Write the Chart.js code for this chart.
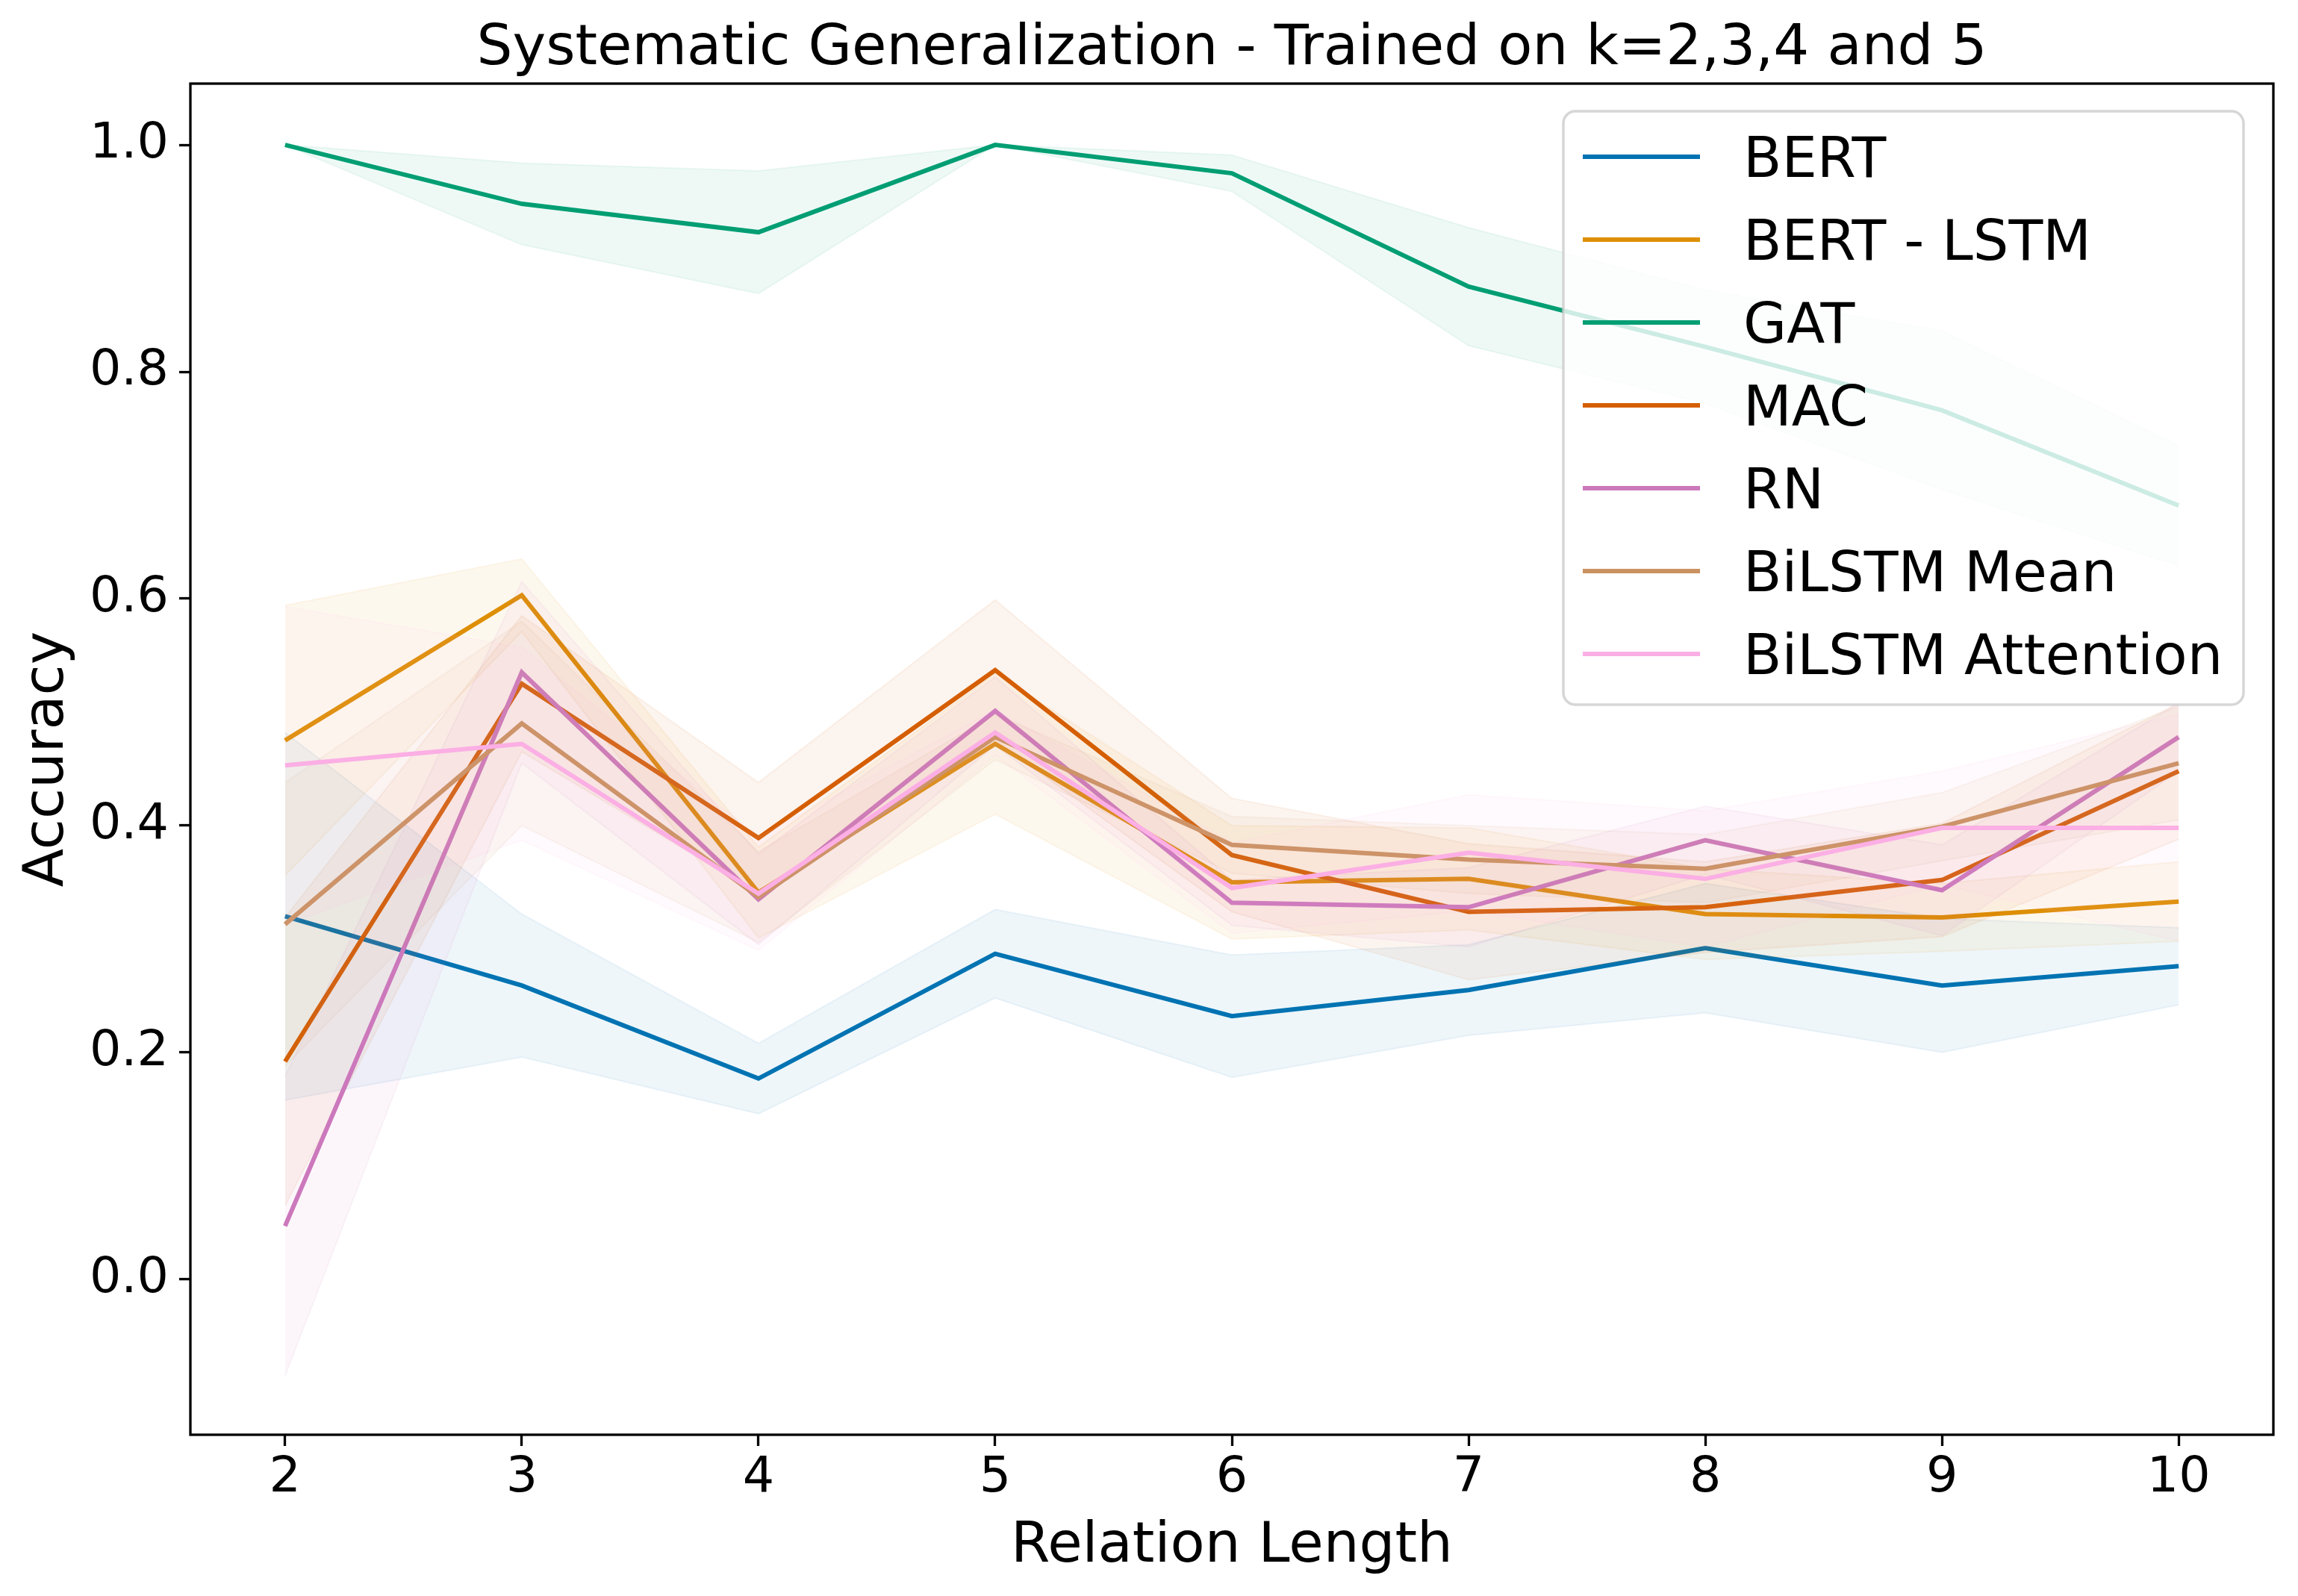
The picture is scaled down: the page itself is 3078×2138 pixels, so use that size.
<!DOCTYPE html>
<html lang="en">
<head>
<meta charset="UTF-8">
<title>Systematic Generalization</title>
<script src="https://cdn.jsdelivr.net/npm/chart.js"></script>
<style>
  body { margin: 0; background: #fff; }
  canvas { display: block; }
</style>
</head>
<body>
<canvas id="chart" width="3078" height="2138"></canvas>
<script>
// relation lengths (x) and y tick values
const relationLength = [2, 3, 4, 5, 6, 7, 8, 9, 10];
const yTicks = [0.0, 0.2, 0.4, 0.6, 0.8, 1.0];

// mean accuracy per model
const bert       = [0.320, 0.259, 0.177, 0.287, 0.232, 0.255, 0.292, 0.259, 0.276];
const bertLstm   = [0.475, 0.603, 0.341, 0.472, 0.350, 0.353, 0.322, 0.319, 0.333];
const gat        = [1.000, 0.948, 0.923, 1.000, 0.975, 0.875, 0.822, 0.766, 0.682];
const mac        = [0.192, 0.525, 0.389, 0.537, 0.374, 0.324, 0.328, 0.352, 0.448];
const rn         = [0.047, 0.535, 0.335, 0.501, 0.332, 0.328, 0.387, 0.343, 0.478];
const bilstmMean = [0.313, 0.490, 0.337, 0.478, 0.383, 0.370, 0.362, 0.399, 0.455];
const bilstmAttn = [0.453, 0.472, 0.340, 0.482, 0.345, 0.376, 0.353, 0.398, 0.398];

// half width of the shaded band (std dev) per model
const bertSd       = [0.162, 0.063, 0.031, 0.039, 0.054, 0.040, 0.057, 0.059, 0.034];
const bertLstmSd   = [0.119, 0.032, 0.040, 0.062, 0.050, 0.045, 0.040, 0.030, 0.035];
const gatSd        = [0.000, 0.036, 0.054, 0.000, 0.016, 0.052, 0.050, 0.070, 0.053];
const macSd        = [0.127, 0.060, 0.049, 0.062, 0.050, 0.060, 0.040, 0.050, 0.060];
const rnSd         = [0.132, 0.080, 0.040, 0.030, 0.020, 0.035, 0.030, 0.040, 0.030];
const bilstmMeanSd = [0.125, 0.090, 0.040, 0.020, 0.025, 0.030, 0.030, 0.030, 0.050];
const bilstmAttnSd = [0.140, 0.085, 0.050, 0.020, 0.040, 0.051, 0.060, 0.050, 0.100];

const series = [
    { name: 'BERT',              color: [1, 115, 178],   mean: bert,       sd: bertSd },
    { name: 'BERT - LSTM',       color: [222, 143, 5],   mean: bertLstm,   sd: bertLstmSd },
    { name: 'GAT',               color: [2, 158, 115],   mean: gat,        sd: gatSd },
    { name: 'MAC',               color: [213, 94, 0],    mean: mac,        sd: macSd },
    { name: 'RN',                color: [204, 120, 188], mean: rn,         sd: rnSd },
    { name: 'BiLSTM Mean',       color: [202, 145, 97],  mean: bilstmMean, sd: bilstmMeanSd },
    { name: 'BiLSTM Attention',  color: [251, 175, 228], mean: bilstmAttn, sd: bilstmAttnSd }
];

const FONT = "'DejaVu Sans', sans-serif";
const rgba = (c, a) => `rgba(${c[0]}, ${c[1]}, ${c[2]}, ${a})`;

// each model: upper bound, lower bound (filled to upper), then the mean line
const datasets = [];
series.forEach((s, i) => {
    const upperIdx = datasets.length;
    const order = 100 - i * 3;
    datasets.push({
        label: s.name + ' upper',
        data: relationLength.map((x, j) => ({ x: x, y: s.mean[j] + s.sd[j] })),
        borderColor: rgba(s.color, 0.07),
        borderWidth: 2,
        pointRadius: 0,
        fill: false,
        order: order
    });
    datasets.push({
        label: s.name + ' lower',
        data: relationLength.map((x, j) => ({ x: x, y: s.mean[j] - s.sd[j] })),
        borderColor: rgba(s.color, 0.07),
        borderWidth: 2,
        pointRadius: 0,
        fill: upperIdx,
        backgroundColor: rgba(s.color, 0.065),
        order: order - 1
    });
    datasets.push({
        label: s.name,
        data: relationLength.map((x, j) => ({ x: x, y: s.mean[j] })),
        borderColor: rgba(s.color, 1),
        borderWidth: 6,
        pointRadius: 0,
        fill: false,
        order: order - 2
    });
});

// title, frame and an in-axes legend like matplotlib's
const overlay = {
    id: 'overlay',
    afterDatasetsDraw(chart) {
        const ctx = chart.ctx;
        const a = chart.chartArea;
        ctx.save();

        // legend box
        const bx = a.right - 951, by = a.top + 37, bw = 911, bh = 795;
        ctx.beginPath();
        ctx.roundRect(bx, by, bw, bh, 16);
        ctx.fillStyle = 'rgba(255, 255, 255, 0.8)';
        ctx.fill();
        ctx.lineWidth = 3.5;
        ctx.strokeStyle = 'rgba(204, 204, 204, 0.8)';
        ctx.stroke();

        ctx.font = '75px ' + FONT;
        ctx.textAlign = 'left';
        ctx.textBaseline = 'middle';
        series.forEach((s, i) => {
            const y = by + 61 + i * 111;
            ctx.beginPath();
            ctx.moveTo(bx + 26, y);
            ctx.lineTo(bx + 183, y);
            ctx.lineWidth = 6;
            ctx.strokeStyle = rgba(s.color, 1);
            ctx.stroke();
            ctx.fillStyle = '#000';
            ctx.fillText(s.name, bx + 241, y + 8);
        });

        // axes frame
        ctx.lineWidth = 3.3;
        ctx.strokeStyle = '#000';
        ctx.strokeRect(a.left, a.top, a.right - a.left, a.bottom - a.top);

        // title centred over the axes
        ctx.font = '75.5px ' + FONT;
        ctx.textAlign = 'center';
        ctx.textBaseline = 'middle';
        ctx.fillStyle = '#000';
        ctx.fillText('Systematic Generalization - Trained on k=2,3,4 and 5', (a.left + a.right) / 2, 66);
        ctx.restore();
    }
};

new Chart(document.getElementById('chart'), {
    type: 'line',
    data: { datasets: datasets },
    options: {
        responsive: false,
        animation: false,
        devicePixelRatio: 1,
        layout: { padding: { top: 112, right: 33, left: 0, bottom: 0 } },
        elements: { line: { tension: 0 } },
        plugins: {
            legend: { display: false },
            tooltip: { enabled: false },
            title: { display: false },
            filler: { propagate: false }
        },
        scales: {
            x: {
                type: 'linear',
                min: 1.6,
                max: 10.4,
                afterBuildTicks: s => { s.ticks = relationLength.map(v => ({ value: v })); },
                afterFit: s => { s.height = 216; },
                grid: { drawOnChartArea: false, drawTicks: true, tickLength: 15, tickColor: '#000', tickWidth: 3.3 },
                border: { display: false },
                ticks: { color: '#000', font: { family: FONT, size: 66.7 }, padding: 4, maxRotation: 0 },
                title: {
                    display: true,
                    text: 'Relation Length',
                    color: '#000',
                    font: { family: FONT, size: 75.5 },
                    padding: { top: 0, bottom: 20 }
                }
            },
            y: {
                type: 'linear',
                min: -0.137,
                max: 1.054,
                afterBuildTicks: s => { s.ticks = yTicks.map(v => ({ value: v })); },
                afterFit: s => { s.width = 255; },
                grid: { drawOnChartArea: false, drawTicks: true, tickLength: 15, tickColor: '#000', tickWidth: 3.3 },
                border: { display: false },
                ticks: { color: '#000', font: { family: FONT, size: 66.7 }, padding: 14, callback: v => v.toFixed(1) },
                title: {
                    display: true,
                    text: 'Accuracy',
                    color: '#000',
                    font: { family: FONT, size: 75 },
                    padding: { top: 20, bottom: 0 }
                }
            }
        }
    },
    plugins: [overlay]
});
</script>
</body>
</html>
